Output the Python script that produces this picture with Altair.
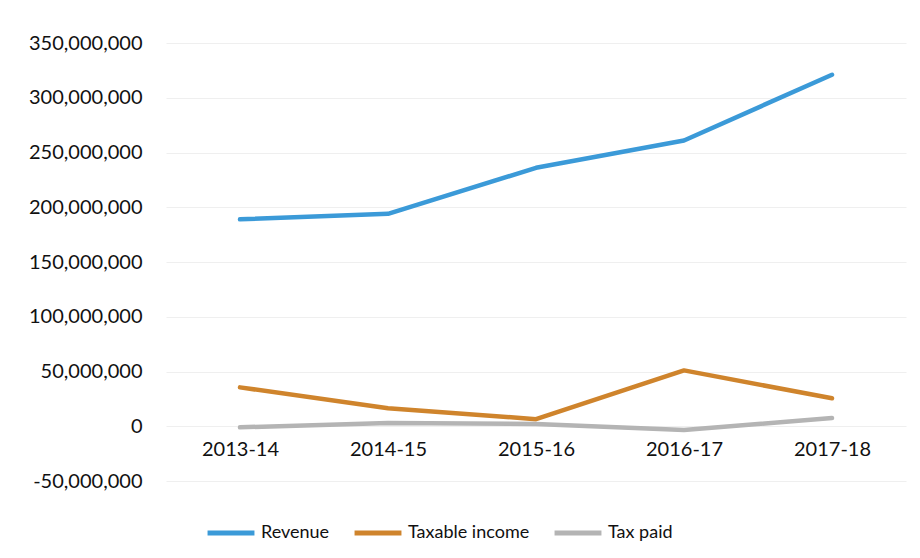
import altair as alt
import pandas as pd

years = ["2013-14", "2014-15", "2015-16", "2016-17", "2017-18"]
revenue = [189000000, 194000000, 236000000, 261000000, 321000000]
taxable_income = [35500000, 16500000, 6500000, 51000000, 25500000]
tax_paid = [-1000000, 3000000, 2000000, -3500000, 7500000]

series_names = ["Revenue", "Taxable income", "Tax paid"]
series_colors = ["#3b9ad8", "#cf842c", "#b4b4b4"]

rows = []
for name, vals in zip(series_names, [revenue, taxable_income, tax_paid]):
    for y, v in zip(years, vals):
        rows.append({"Year": y, "Series": name, "Value": v})
df = pd.DataFrame(rows)

FONT = "Lato"

chart = alt.Chart(df).mark_line(strokeWidth=4.5, strokeCap="round", strokeJoin="round").encode(
    x=alt.X("Year:N", sort=years, title=None,
            scale=alt.Scale(type="point", padding=0.5),
            axis=alt.Axis(labelAngle=0, domain=False, ticks=False, grid=False,
                          offset=-55, labelPadding=13, labelFontSize=20,
                          labelFont=FONT, labelColor="#111111")),
    y=alt.Y("Value:Q", title=None,
            scale=alt.Scale(domain=[-50000000, 350000000], nice=False, zero=False),
            axis=alt.Axis(values=list(range(-50000000, 350000001, 50000000)),
                          labelExpr="(datum.value < 0 ? '-' : '') + format(abs(datum.value), ',.0f')",
                          domain=False, ticks=False, grid=True, gridColor="#efefef",
                          gridWidth=1, labelPadding=24, labelFontSize=20,
                          labelFont=FONT, labelColor="#111111")),
    color=alt.Color("Series:N",
                    scale=alt.Scale(domain=series_names, range=series_colors),
                    legend=alt.Legend(title=None, orient="none", legendX=39, legendY=464,
                                      direction="horizontal", columns=3,
                                      symbolType="stroke", symbolSize=2200,
                                      symbolStrokeWidth=5, columnPadding=14,
                                      labelOffset=4, labelFontSize=18,
                                      labelFont=FONT, labelColor="#111111")),
    order=alt.Order("Year:N"),
).properties(
    width=740, height=438,
    autosize=alt.AutoSizeParams(type="none"),
    padding={"left": 158, "top": 35, "right": 6, "bottom": 70},
).configure(background="white", view=alt.ViewConfig(stroke=None))

chart.save("out.html", embed_options={"renderer": "svg", "actions": False})
